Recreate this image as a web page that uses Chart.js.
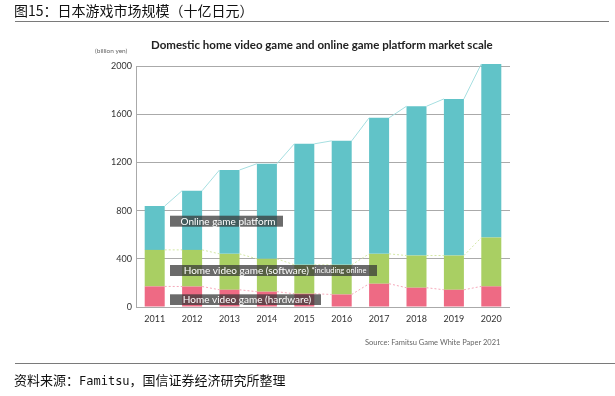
<!DOCTYPE html>
<html>
<head>
<meta charset="utf-8">
<script src="https://cdn.jsdelivr.net/npm/chart.js@4/dist/chart.umd.min.js"></script>
<style>
  html, body { margin:0; padding:0; background:#fff; }
  #wrap { position:relative; width:615px; height:396px; overflow:hidden; }
  #c { position:absolute; left:0; top:0; }
  .t { position:absolute; white-space:nowrap; }
</style>
</head>
<body>
<div id="wrap">
  <canvas id="c" width="615" height="396"></canvas>
  <div class="t" style="left:14px;top:1px;font:14px/18px 'Noto Sans CJK SC';color:#111;">图15：日本游戏市场规模（十亿日元）</div>
  <div style="position:absolute;left:15px;top:21px;width:594px;height:1px;background:#7a7a7a;"></div>
  <div class="t" style="left:151px;top:38px;font:bold 11.5px/14px Lato;color:#222;">Domestic home video game and online game platform market scale</div>
  <div class="t" style="left:95px;top:46px;font:6.5px/9px Lato;color:#666;">(billion yen)</div>
  <div class="t" style="left:365px;top:338px;font:7.5px/10px Lato;color:#666;">Source: Famitsu Game White Paper 2021</div>
  <div style="position:absolute;left:15px;top:363px;width:600px;height:1px;background:#7a7a7a;"></div>
  <div class="t" style="left:14px;top:371px;font:13px/18px 'Noto Sans CJK SC';color:#111;">资料来源：<span style="font-family:'DejaVu Sans Mono';font-size:12px;">Famitsu</span>，国信证券经济研究所整理</div>
</div>
<script>
const years = ['2011','2012','2013','2014','2015','2016','2017','2018','2019','2020'];
const hardware = [171, 170, 143, 127, 110, 104, 193, 160, 143, 171];
const software = [303, 304, 298, 273, 240, 246, 248, 267, 284, 405];
const online   = [364, 491, 696, 789, 1004, 1029, 1129, 1239, 1300, 1441];
const yTicks = [0, 400, 800, 1200, 1600, 2000];
const seriesNames = ['Home video game (hardware)', 'Home video game (software)', 'Online game platform'];

const connectorStyles = [
  { color: '#f5a9ba', dash: [2, 2] },
  { color: '#d3e7a4', dash: [2, 2] },
  { color: '#a6dfe1', dash: [] }
];

const labelBoxes = [
  { text: 'Online game platform', small: '', left: 34, right: 147, top: 149.7, bottom: 160.7 },
  { text: 'Home video game (software) ', small: '*including online', left: 34, right: 241, top: 199, bottom: 210 },
  { text: 'Home video game (hardware)', small: '', left: 34, right: 185, top: 228.3, bottom: 239 }
];

const overlay = {
  id: 'overlay',
  afterDatasetsDraw(chart) {
    const ctx = chart.ctx;
    const ca = chart.chartArea;
    chart.data.datasets.forEach((ds, di) => {
      const meta = chart.getDatasetMeta(di);
      const st = connectorStyles[di];
      ctx.save();
      ctx.strokeStyle = st.color;
      ctx.lineWidth = 1;
      ctx.setLineDash(st.dash);
      ctx.beginPath();
      for (let i = 0; i < meta.data.length - 1; i++) {
        const a = meta.data[i], b = meta.data[i + 1];
        ctx.moveTo(a.x + a.width / 2, a.y);
        ctx.lineTo(b.x - b.width / 2, b.y);
      }
      ctx.stroke();
      ctx.restore();
    });
    labelBoxes.forEach(bx => {
      const l = ca.left + bx.left, r = ca.left + bx.right;
      const t = ca.top + bx.top, bt = ca.top + bx.bottom;
      ctx.save();
      ctx.fillStyle = 'rgba(55,55,55,0.74)';
      ctx.fillRect(l, t, r - l, bt - t);
      ctx.fillStyle = '#ffffff';
      ctx.textBaseline = 'middle';
      ctx.font = '10px Lato';
      const w1 = ctx.measureText(bx.text).width;
      ctx.font = '7.5px Lato';
      const w2 = bx.small ? ctx.measureText(bx.small).width : 0;
      let x = (l + r) / 2 - (w1 + w2) / 2 + 1.5;
      const cy = (t + bt) / 2 + 0.5;
      ctx.font = '10px Lato';
      ctx.textAlign = 'left';
      ctx.fillText(bx.text, x, cy);
      if (bx.small) {
        ctx.font = '7.5px Lato';
        ctx.fillText(bx.small, x + w1, cy);
      }
      ctx.restore();
    });
  }
};

new Chart(document.getElementById('c'), {
  type: 'bar',
  data: {
    labels: years,
    datasets: [
      { label: seriesNames[0], data: hardware, backgroundColor: '#ee6a84' },
      { label: seriesNames[1], data: software, backgroundColor: '#a9cf63' },
      { label: seriesNames[2], data: online,   backgroundColor: '#61c3c8' }
    ]
  },
  options: {
    responsive: false,
    animation: false,
    datasets: { bar: { categoryPercentage: 1, barPercentage: 0.535, borderWidth: 0, clip: false } },
    layout: { padding: { left: 0, right: 105, top: 66, bottom: 69 } },
    plugins: { legend: { display: false }, tooltip: { enabled: false }, title: { display: false } },
    scales: {
      x: {
        stacked: true,
        grid: { display: false, drawTicks: false },
        border: { display: false },
        ticks: { font: { family: 'Lato', size: 9 }, color: '#333', padding: 7, maxRotation: 0 },
        afterFit(s) { s.height = 20; }
      },
      y: {
        stacked: true,
        min: 0, max: 2000,
        afterBuildTicks(s) { s.ticks = yTicks.map(v => ({ value: v })); },
        grid: { color: '#aaaaaa', lineWidth: 1, drawTicks: false },
        border: { display: true, color: '#aaaaaa' },
        ticks: { font: { family: 'Lato', size: 9 }, color: '#333', padding: 4, callback: v => String(v) },
        afterFit(s) { s.width = 136; }
      }
    }
  },
  plugins: [overlay]
});
</script>
</body>
</html>
